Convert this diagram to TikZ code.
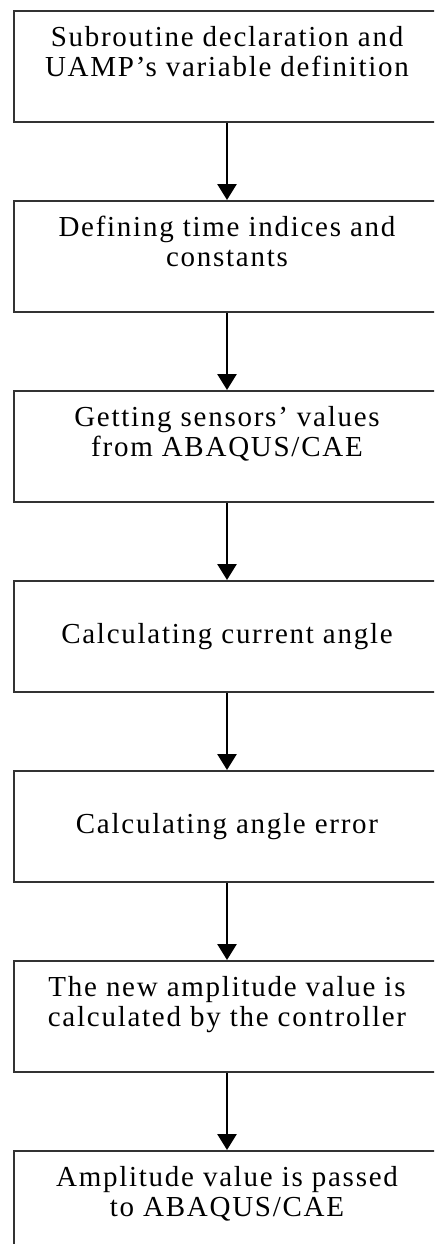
\documentclass[tikz,border=0pt]{standalone}
\usepackage{fontspec}
\setmainfont[LetterSpace=6]{Liberation Serif}
\usetikzlibrary{arrows.meta,positioning}

\begin{document}
\begin{tikzpicture}[
  x=1pt, y=1pt,
  stepbox/.style={rectangle, draw=black!80, line width=2pt,
                  minimum width=426pt, minimum height=111pt, inner sep=0pt,
                  font=\fontsize{29}{30}\selectfont, align=center},
  arr/.style={-{Triangle[length=16pt, width=19pt]}, line width=2.8pt, draw=black},
  node distance=77pt
]
\useasboundingbox (0,0) rectangle (434,-1244);
\clip (0,0) rectangle (434,-1244);

% Steps of the subroutine
\node[stepbox, anchor=north] (decl) at (227,-10)
  {Subroutine declaration and\\UAMP's variable definition\\\mbox{}};
\node[stepbox, below=of decl] (consts)
  {Defining time indices and\\constants\\\mbox{}};
\node[stepbox, below=of consts] (sensors)
  {Getting sensors' values\\from ABAQUS/CAE\\\mbox{}};
\node[stepbox, below=of sensors] (angle) {Calculating current angle};
\node[stepbox, below=of angle] (error) {Calculating angle error};
\node[stepbox, below=of error] (ampl)
  {The new amplitude value is\\calculated by the controller\\\mbox{}};
\node[stepbox, below=of ampl] (pass)
  {Amplitude value is passed\\to ABAQUS/CAE\\\mbox{}};

% Arrows
\draw[arr] (decl) -- (consts);
\draw[arr] (consts) -- (sensors);
\draw[arr] (sensors) -- (angle);
\draw[arr] (angle) -- (error);
\draw[arr] (error) -- (ampl);
\draw[arr] (ampl) -- (pass);
\end{tikzpicture}
\end{document}
